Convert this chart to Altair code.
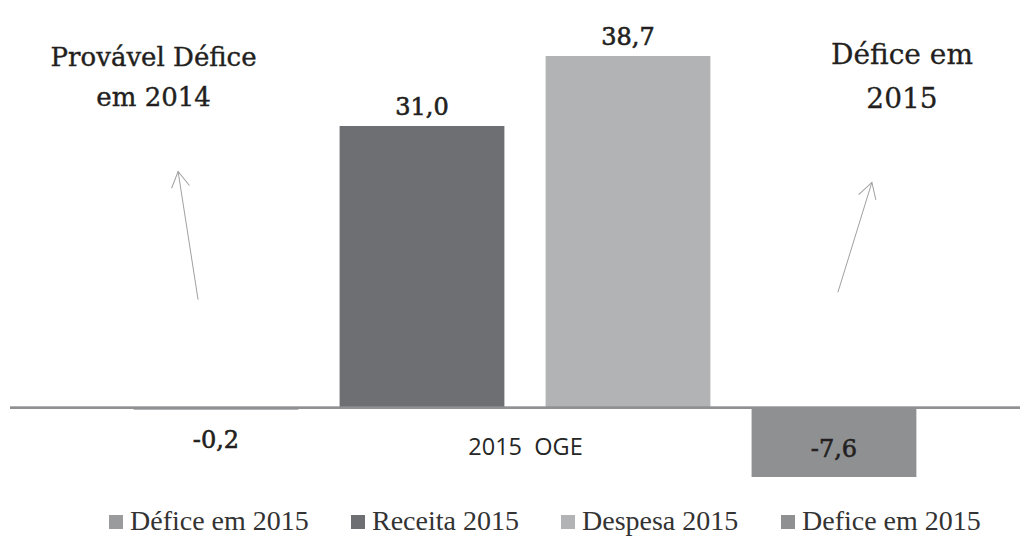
import altair as alt
import pandas as pd

# ---- data ----
category = "2015\u00a0 OGE"
series = ["Défice em 2015", "Receita 2015", "Despesa 2015", "Defice em 2015"]
values = [-0.2, 31.0, 38.7, -7.6]
colors = ["#9a9b9d", "#6e6f73", "#b2b3b5", "#8f9092"]

# annotations (x in bar-slot units, y in data units)
note_texts = ["Provável Défice\nem 2014", "Défice em\n2015"]
note_x = [0.697, 4.330]
note_y = [38.5, 38.7]

arrow_tail_x = [0.913, 4.019]
arrow_tail_y = [11.9, 12.7]
arrow_head_x = [0.816, 4.184]
arrow_head_y = [26.0, 24.8]
arrow_angle = [351.1, 17.2]

# ---- tables ----
df = pd.DataFrame({"series": series, "value": values})
df["lab"] = [f"{v:.1f}".replace(".", ",") for v in values]

notes = pd.DataFrame({"t": note_texts, "nx": note_x, "ny": note_y})
arrows = pd.DataFrame({"x1": arrow_tail_x, "y1": arrow_tail_y,
                       "x2": arrow_head_x, "y2": arrow_head_y, "ang": arrow_angle})

yscale = alt.Scale(domain=[-8.6, 42], nice=False, zero=False)
xscale = alt.Scale(domain=[0, 4.903], nice=False, zero=False)

ink = "#231f20"

base = alt.Chart(df).transform_window(
    idx="row_number()"
).transform_calculate(
    x0="datum.idx - 0.4", x1="datum.idx + 0.4",
    laby="datum.value >= 0 ? datum.value + 2 : min(datum.value + 3, -3.7)",
)

bars = base.mark_bar().encode(
    x=alt.X("x0:Q", scale=xscale, title=category,
            axis=alt.Axis(domain=False, ticks=False, labels=False, grid=False,
                          titleFont="Open Sans", titleFontSize=23.5, titleFontWeight="normal",
                          titleColor="#262626", titlePadding=0, titleBaseline="top",
                          offset=-51, titleX=515)),
    x2="x1:Q",
    y=alt.Y("value:Q", scale=yscale, axis=None),
    y2=alt.datum(0),
    color=alt.Color("series:N", sort=series, scale=alt.Scale(domain=series, range=colors),
                    legend=alt.Legend(title=None, orient="none", legendX=92, legendY=482,
                                      direction="horizontal", symbolType="square",
                                      symbolSize=196, symbolStrokeWidth=0,
                                      labelFont="Liberation Serif", labelFontSize=28,
                                      labelColor="#333333", labelLimit=400,
                                      columnPadding=35, labelOffset=0, padding=0)),
)

labels = base.mark_text(font="DejaVu Serif", fontSize=24, color=ink, stroke=ink,
                        strokeWidth=0.6, baseline="middle", align="center").encode(
    x=alt.X("idx:Q", scale=xscale),
    y=alt.Y("laby:Q", scale=yscale),
    text="lab:N",
)

zero_line = alt.Chart(df).mark_rule(color="#8f9092", strokeWidth=2).encode(
    y=alt.datum(0)
)

shafts = alt.Chart(arrows).mark_rule(color="#a0a0a0", strokeWidth=1).encode(
    x=alt.X("x1:Q", scale=xscale), x2="x2:Q",
    y=alt.Y("y1:Q", scale=yscale), y2="y2:Q",
)
heads = alt.Chart(arrows).mark_point(
    shape="M -0.5 0.866 L 0 0 L 0.5 0.866", filled=False, size=1300,
    stroke="#a0a0a0", strokeWidth=1, opacity=1
).encode(
    x=alt.X("x2:Q", scale=xscale),
    y=alt.Y("y2:Q", scale=yscale),
    angle=alt.Angle("ang:Q", scale=None),
)

note_left = alt.Chart(notes.iloc[[0]]).mark_text(
    font="DejaVu Serif", fontSize=26, lineHeight=40, lineBreak="\n",
    baseline="middle", align="center", color=ink, stroke=ink, strokeWidth=0.4
).encode(
    x=alt.X("nx:Q", scale=xscale),
    y=alt.Y("ny:Q", scale=yscale),
    text="t:N",
)
note_right = alt.Chart(notes.iloc[[1]]).mark_text(
    font="DejaVu Serif", fontSize=28, lineHeight=44, lineBreak="\n",
    baseline="middle", align="center", color=ink, stroke=ink, strokeWidth=0.3
).encode(
    x=alt.X("nx:Q", scale=xscale),
    y=alt.Y("ny:Q", scale=yscale),
    text="t:N",
)

chart = alt.layer(
    bars, zero_line, labels, shafts, heads, note_left, note_right
).properties(
    width=1010, height=460,
    padding={"left": 2, "top": 18, "right": 0, "bottom": 50},
    autosize=alt.AutoSizeParams(type="none"),
).configure_view(stroke=None)

chart.save("out.html", embed_options={"renderer": "svg", "actions": False})
